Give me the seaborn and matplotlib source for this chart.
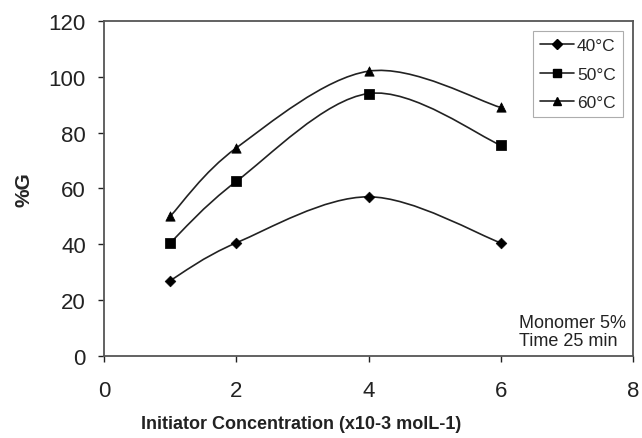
import numpy as np
import matplotlib
matplotlib.use("Agg")
import matplotlib.pyplot as plt
from matplotlib.path import Path
from matplotlib.patches import PathPatch
from matplotlib.lines import Line2D
import seaborn as sns

# Initiator concentration (x10-3 mol/L) and %G per temperature
conc = [1, 2, 4, 6]
g_40 = [27, 40.5, 57, 40.5]
g_50 = [40.5, 62.5, 94, 75.5]
g_60 = [50, 74.5, 102, 89]
series = [("40°C", g_40, "D"), ("50°C", g_50, "s"), ("60°C", g_60, "^")]

sns.set_style("ticks")
plt.rcParams["font.family"] = ["Liberation Sans", "DejaVu Sans"]

fig = plt.figure(figsize=(6.42, 4.39), dpi=100)
ax = fig.add_axes([0.162, 0.187, 0.824, 0.763])


def smooth_path(xs, ys):
    # Excel-style smoothed line: Catmull-Rom segments as cubic Bezier
    pts = np.column_stack([xs, ys]).astype(float)
    n = len(pts)
    verts = [pts[0]]
    codes = [Path.MOVETO]
    for i in range(n - 1):
        p0 = pts[i - 1] if i > 0 else pts[i]
        p1 = pts[i]
        p2 = pts[i + 1]
        p3 = pts[i + 2] if i + 2 < n else pts[i + 1]
        c1 = p1 + (p2 - p0) / 6.0
        c2 = p2 - (p3 - p1) / 6.0
        verts += [c1, c2, p2]
        codes += [Path.CURVE4] * 3
    return Path(verts, codes)


handles = []
for label, vals, mk in series:
    ax.add_patch(PathPatch(smooth_path(conc, vals), facecolor="none",
                           edgecolor="#222222", lw=1.2, zorder=2))
    sns.scatterplot(x=conc, y=vals, marker=mk, color="black",
                    s=45 if mk != "D" else 30, edgecolor="black", ax=ax, zorder=3)
    handles.append(Line2D([], [], color="#222222", lw=1.2, marker=mk,
                          markersize=6 if mk != "D" else 5, markerfacecolor="black",
                          markeredgecolor="black", label=label))

ax.set_xlim(0, 8)
ax.set_ylim(0, 120)
ax.set_xticks([0, 2, 4, 6, 8])
ax.set_yticks(range(0, 121, 20))
ax.tick_params(labelsize=16, colors="#222222", length=4, width=1)
ax.tick_params(axis="x", pad=13)
ax.tick_params(axis="y", pad=9)
for sp in ax.spines.values():
    sp.set_visible(True)
    sp.set_color("#555555")
    sp.set_linewidth(1.3)

ax.set_ylabel("%G", fontsize=15, fontweight="bold", labelpad=11)
fig.text(301 / 642, 1 - 425 / 439, "Initiator Concentration (x10-3 molL-1)",
         fontsize=13, fontweight="bold", ha="center", va="center", color="#222222")

leg = ax.legend(handles=handles, loc="upper right", fontsize=12.5, frameon=True,
                fancybox=False, edgecolor="#999999", handlelength=2.0,
                borderaxespad=0.6, handletextpad=0.15, labelspacing=0.75,
                borderpad=0.4)
leg.get_frame().set_linewidth(0.8)

ax.text(0.785, 0.02, "Monomer 5%\nTime 25 min", transform=ax.transAxes,
        ha="left", va="bottom", fontsize=13, color="#222222", linespacing=1.1)

fig.savefig("out.png", dpi=100)
